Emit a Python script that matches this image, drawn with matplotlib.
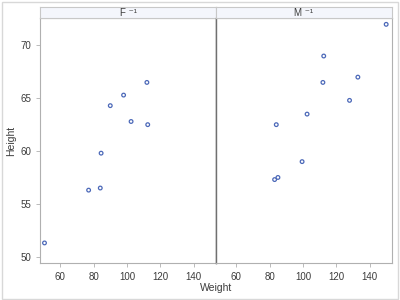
import matplotlib
matplotlib.use('Agg')
import matplotlib.pyplot as plt
from matplotlib.patches import Rectangle

plt.rcParams['font.family'] = ['Liberation Sans', 'DejaVu Sans']

# sashelp.class style data
f_weight = [84.0, 98.0, 102.5, 84.5, 112.5, 50.5, 90.0, 77.0, 112.0]
f_height = [56.5, 65.3, 62.8, 59.8, 62.5, 51.3, 64.3, 56.3, 66.5]
m_weight = [112.5, 102.5, 83.0, 84.0, 99.5, 150.0, 128.0, 133.0, 85.0, 112.0]
m_height = [69.0, 63.5, 57.3, 62.5, 59.0, 72.0, 64.8, 67.0, 57.5, 66.5]
panel_labels = ['F \u207b\u00b9', 'M \u207b\u00b9']
x_ticks = [60, 80, 100, 120, 140]
y_ticks = [50, 55, 60, 65, 70]

marker_color = '#4b68b8'
frame_color = '#b0b0b0'
text_color = '#3c3c3c'

fig = plt.figure(figsize=(4, 3), dpi=100)
fig.patch.set_facecolor('white')
fig.patches.append(Rectangle((0.004, 0.005), 0.99, 0.99, transform=fig.transFigure,
                             fill=False, edgecolor='#d8d8d8', linewidth=1))

W, H = 400.0, 300.0
left_px, mid_px, right_px = 40.0, 216.0, 392.0
top_px, bot_px, head_px = 18.0, 263.0, 7.0

data = [(f_weight, f_height), (m_weight, m_height)]
edges = [(left_px, mid_px), (mid_px, right_px)]

for i, ((x0, x1), (wx, hy), label) in enumerate(zip(edges, data, panel_labels)):
    ax = fig.add_axes([x0 / W, 1 - bot_px / H, (x1 - x0) / W, (bot_px - top_px) / H])
    ax.scatter(wx, hy, s=7, facecolors='none', edgecolors=marker_color, linewidths=0.9)
    ax.set_xlim(47.8, 153.5)
    ax.set_ylim(49.4, 72.6)
    ax.set_xticks(x_ticks)
    ax.set_yticks(y_ticks)
    ax.tick_params(labelsize=7, colors=text_color, length=3, width=0.6, color=frame_color)
    for sp in ax.spines.values():
        sp.set_color(frame_color)
        sp.set_linewidth(0.8)
    if i == 0:
        ax.spines['right'].set_color('#707070')
        ax.spines['right'].set_linewidth(1.0)
        ax.set_ylabel('Height', fontsize=7.5, color=text_color, labelpad=3)
    else:
        ax.spines['left'].set_color('#707070')
        ax.spines['left'].set_linewidth(1.0)
        ax.tick_params(axis='y', left=False, labelleft=False)

    # header strip
    hx = fig.add_axes([x0 / W, 1 - top_px / H, (x1 - x0) / W, (top_px - head_px) / H])
    hx.set_facecolor('#f4f6fc')
    hx.set_xticks([])
    hx.set_yticks([])
    for sp in hx.spines.values():
        sp.set_color('#c8c8c8')
        sp.set_linewidth(0.8)
    hx.text(0.5, 0.45, label, ha='center', va='center', fontsize=7, color=text_color,
            transform=hx.transAxes)

fig.text((left_px + right_px) / 2 / W, 1 - 288 / H, 'Weight', ha='center', va='center',
         fontsize=7.5, color=text_color)

fig.savefig('out.png', dpi=100)
